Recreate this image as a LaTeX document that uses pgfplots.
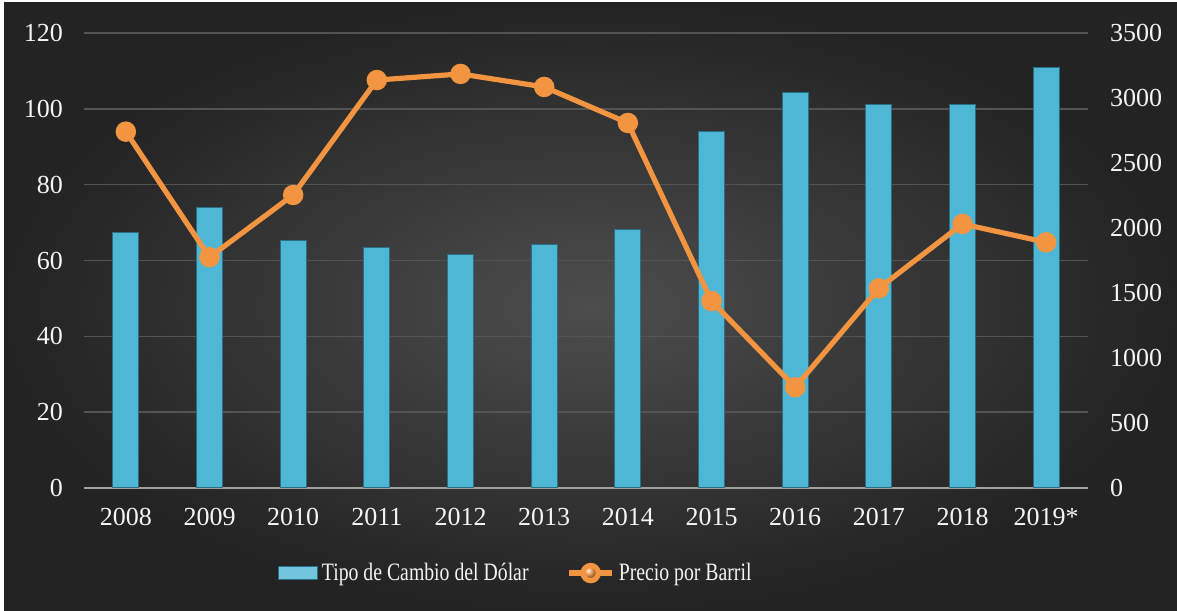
\documentclass[border=0pt]{standalone}
\usepackage{fontspec}
\setmainfont{Liberation Serif}
\newfontfamily\legfont[FakeStretch=0.79]{Liberation Serif}
\usepackage{pgfplots}
\pgfplotsset{compat=1.18}
\definecolor{bgC}{HTML}{4D4D4D}
\definecolor{bgE}{HTML}{232323}
\definecolor{gridC}{HTML}{545454}
\definecolor{barC}{HTML}{4FB7D6}
\definecolor{barD}{HTML}{2A6F86}
\definecolor{lineC}{HTML}{F39440}
\definecolor{txtC}{HTML}{F4F4F4}

\begin{document}
\begin{tikzpicture}
\fill[white] (0pt,0pt) rectangle (588.5pt,305pt);
\shade[inner color=bgC, outer color=bgE] (2pt,0pt) rectangle (588.5pt,303.5pt);

\begin{axis}[
  at={(42pt,61pt)}, anchor=south west,
  scale only axis, width=502pt, height=227.5pt,
  xmin=-0.5, xmax=11.5, ymin=0, ymax=120,
  ytick={0,20,...,120},
  xtick={0,...,11},
  xticklabels={2008,2009,2010,2011,2012,2013,2014,2015,2016,2017,2018,2019*},
  axis x line*=bottom, axis y line*=left,
  x axis line style={draw=gray!75, line width=1pt, -},
  y axis line style={draw=none},
  major tick length=0pt,
  ymajorgrids, grid style={gridC, line width=0.8pt},
  /pgf/number format/assume math mode=true,
  tick label style={font=\fontsize{13}{15}\selectfont, text=txtC},
  xticklabel style={yshift=-6.5pt},
  yticklabel style={xshift=-7pt},
]
\addplot[ybar, bar width=13pt, draw=barD, line width=0.5pt, fill=barC] coordinates {
  (0,67.5) (1,73.9) (2,65.2) (3,63.3) (4,61.7) (5,64.1)
  (6,68.3) (7,93.9) (8,104.4) (9,101.1) (10,101.2) (11,110.9)
};
\end{axis}

\begin{axis}[
  at={(42pt,61pt)}, anchor=south west,
  scale only axis, width=502pt, height=227.5pt,
  xmin=-0.5, xmax=11.5, ymin=0, ymax=3500,
  ytick={0,500,...,3500},
  /pgf/number format/assume math mode=true,
  yticklabel style={/pgf/number format/set thousands separator={}, xshift=7.5pt},
  axis x line=none, axis y line*=right,
  y axis line style={draw=none},
  major tick length=0pt,
  tick label style={font=\fontsize{13}{15}\selectfont, text=txtC},
  legend columns=2,
  legend style={at={(0.431,-0.187)}, anchor=center, draw=none, fill=none,
    text=txtC, font=\legfont\fontsize{12.5}{14}\selectfont,
    /tikz/every even column/.append style={column sep=17pt},
    inner sep=0pt},
]
\addlegendimage{legend image code/.code={
  \draw[draw=barD, line width=0.5pt, fill=barC!80!white]
    (0pt,-3.2pt) rectangle (19.5pt,3.2pt);}}
\addlegendentry{Tipo de Cambio del Dólar}
\addplot[lineC, line width=2.6pt, mark=*, mark size=3.8pt,
  mark options={draw=none, ball color=lineC},
  legend image code/.code={
    \draw[lineC, line width=2.6pt] (0pt,0pt) -- (21.5pt,0pt);
    \shade[ball color=lineC] (10.75pt,0pt) circle (3.8pt);}] coordinates {
  (0,2741) (1,1775) (2,2254) (3,3138) (4,3185) (5,3085)
  (6,2808) (7,1438) (8,775) (9,1536) (10,2031) (11,1890)
};
\addlegendentry{Precio por Barril}
\end{axis}
\end{tikzpicture}
\end{document}
